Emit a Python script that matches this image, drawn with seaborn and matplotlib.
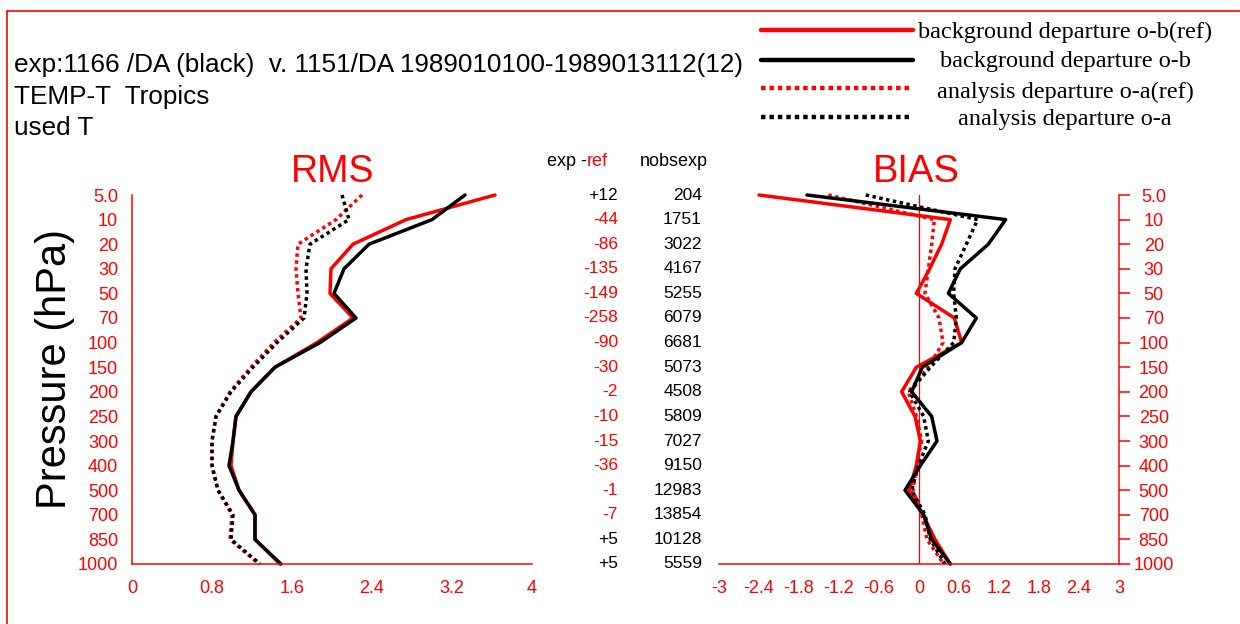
import numpy as np
import pandas as pd
import matplotlib
matplotlib.use("Agg")
import matplotlib.pyplot as plt
import seaborn as sns
from matplotlib.lines import Line2D
from matplotlib import transforms

# Pressure levels (hPa), top of the atmosphere first
levels = ["5.0", "10", "20", "30", "50", "70", "100", "150",
          "200", "250", "300", "400", "500", "700", "850", "1000"]

# RMS of departures (K)
rms_ob_ref = [3.63, 2.74, 2.21, 1.99, 1.98, 2.21, 1.85, 1.43,
              1.19, 1.04, 1.01, 0.99, 1.07, 1.23, 1.23, 1.48]
rms_ob_exp = [3.33, 3.00, 2.37, 2.12, 2.02, 2.24, 1.88, 1.43,
              1.19, 1.04, 1.01, 0.97, 1.07, 1.23, 1.23, 1.49]
rms_oa_ref = [2.30, 2.04, 1.66, 1.64, 1.66, 1.69, 1.42, 1.19,
              0.98, 0.84, 0.80, 0.80, 0.86, 1.00, 0.98, 1.27]
rms_oa_exp = [2.10, 2.17, 1.78, 1.74, 1.75, 1.72, 1.45, 1.21,
              0.99, 0.84, 0.80, 0.80, 0.86, 1.01, 0.99, 1.28]

# Mean departures (K)
bias_ob_ref = [-2.40, 0.47, 0.34, 0.16, -0.04, 0.53, 0.64, -0.04,
               -0.26, -0.06, 0.02, -0.04, -0.15, 0.06, 0.24, 0.47]
bias_ob_exp = [-1.68, 1.30, 1.04, 0.62, 0.44, 0.86, 0.64, 0.05,
               -0.11, 0.19, 0.27, 0.02, -0.21, 0.07, 0.19, 0.47]
bias_oa_ref = [-1.36, 0.23, 0.19, 0.14, 0.09, 0.30, 0.36, 0.14,
               -0.16, -0.04, 0.04, -0.04, -0.09, 0.04, 0.12, 0.37]
bias_oa_exp = [-0.80, 0.88, 0.71, 0.54, 0.52, 0.56, 0.52, 0.17,
               -0.14, 0.07, 0.14, -0.01, -0.11, 0.09, 0.17, 0.39]

# Observation counts
exp_minus_ref = [12, -44, -86, -135, -149, -258, -90, -30,
                 -2, -10, -15, -36, -1, -7, 5, 5]
nobs_exp = [204, 1751, 3022, 4167, 5255, 6079, 6681, 5073,
            4508, 5809, 7027, 9150, 12983, 13854, 10128, 5559]

rms_ticks = [0, 0.8, 1.6, 2.4, 3.2, 4]
bias_ticks = [-3, -2.4, -1.8, -1.2, -0.6, 0, 0.6, 1.2, 1.8, 2.4, 3]

legend_labels = {
    ("ref", "o-b"): "background departure o-b(ref)",
    ("exp", "o-b"): "background departure o-b",
    ("ref", "o-a"): "analysis departure o-a(ref)",
    ("exp", "o-a"): "analysis departure o-a",
}

RED = "#ff0000"
SANS = ["Liberation Sans", "DejaVu Sans"]
SERIF = ["Liberation Serif", "DejaVu Serif"]

sns.set_style("white")
plt.rcParams["font.family"] = SANS

pos = np.arange(len(levels))


def long_frame(series):
    rows = []
    for (src, kind), vals in series.items():
        for p, v in zip(pos, vals):
            rows.append({"pos": p, "value": v, "source": src, "kind": kind})
    return pd.DataFrame(rows)


rms_df = long_frame({("ref", "o-b"): rms_ob_ref, ("ref", "o-a"): rms_oa_ref,
                     ("exp", "o-b"): rms_ob_exp, ("exp", "o-a"): rms_oa_exp})
bias_df = long_frame({("ref", "o-b"): bias_ob_ref, ("ref", "o-a"): bias_oa_ref,
                      ("exp", "o-b"): bias_ob_exp, ("exp", "o-a"): bias_oa_exp})

W, H = 1240, 624
fig = plt.figure(figsize=(W / 100, H / 100), dpi=100)
fig.patch.set_facecolor("white")


def fx(px):
    return px / W


def fy(py):
    return 1 - py / H


ax_rms = fig.add_axes([fx(132), fy(564), 400 / W, 369 / H])
ax_bias = fig.add_axes([fx(719), fy(564), 400 / W, 369 / H])

line_kw = dict(x="value", y="pos", hue="source", style="kind",
               hue_order=["ref", "exp"], style_order=["o-b", "o-a"],
               palette={"ref": RED, "exp": "black"},
               dashes={"o-b": "", "o-a": (1, 1)},
               sort=False, orient="y", estimator=None,
               linewidth=2.5, legend=False)

sns.lineplot(data=rms_df, ax=ax_rms, **line_kw)
sns.lineplot(data=bias_df, ax=ax_bias, **line_kw)

for ax in (ax_rms, ax_bias):
    ax.set_facecolor("none")
    ax.set_ylim(len(levels) - 1, 0)
    ax.set_yticks(pos)
    ax.set_yticklabels(levels)
    ax.set_xlabel("")
    ax.set_ylabel("")
    ax.grid(False)
    for ln in ax.lines:
        ln.set_clip_on(False)
    for s in ax.spines.values():
        s.set_color(RED)
        s.set_linewidth(1.1)
    ax.spines["top"].set_visible(False)
    ax.tick_params(axis="both", colors=RED, labelcolor=RED, labelsize=13,
                   length=8, width=1.1, direction="out")
    ax.tick_params(axis="x", pad=3.5)

# RMS panel: axis on the left
ax_rms.set_xlim(0, 4)
ax_rms.set_xticks(rms_ticks)
ax_rms.set_xticklabels([f"{t:g}" for t in rms_ticks])
ax_rms.spines["right"].set_visible(False)
ax_rms.tick_params(axis="y", pad=2)

# BIAS panel: axis on the right, zero reference line
ax_bias.set_xlim(-3, 3)
ax_bias.set_xticks(bias_ticks)
ax_bias.set_xticklabels([f"{t:g}" for t in bias_ticks])
ax_bias.spines["left"].set_visible(False)
ax_bias.yaxis.tick_right()
ax_bias.tick_params(axis="y", pad=17)
for lbl in ax_bias.get_yticklabels():
    lbl.set_horizontalalignment("center")
ax_bias.axvline(0, color=RED, lw=0.9, zorder=0)

# Panel titles and pressure axis title
fig.text(fx(333), fy(172), "RMS", color=RED, fontsize=27, ha="center", va="center")
fig.text(fx(916), fy(172), "BIAS", color=RED, fontsize=27.5, ha="center", va="center")
fig.text(fx(55), fy(369), "Pressure (hPa)", color="black", fontsize=30,
         rotation=90, ha="center", va="center")

# Observation count columns between the panels
tr = transforms.blended_transform_factory(fig.transFigure, ax_rms.transData)
hdr_y = fy(161)
fig.text(fx(587), hdr_y, "exp -", color="black", fontsize=13, ha="right", va="center")
fig.text(fx(587), hdr_y, "ref", color=RED, fontsize=13, ha="left", va="center")
fig.text(fx(640), hdr_y, "nobsexp", color="black", fontsize=13, ha="left", va="center")
for p, d, n in zip(pos, exp_minus_ref, nobs_exp):
    fig.text(fx(618), p, f"{d:+d}", transform=tr, color="black" if d > 0 else RED,
             fontsize=12.5, ha="right", va="center")
    fig.text(fx(702), p, f"{n}", transform=tr, color="black",
             fontsize=12.5, ha="right", va="center")

# Header text
hdr_lines = ["exp:1166 /DA (black)  v. 1151/DA 1989010100-1989013112(12)",
             "TEMP-T  Tropics",
             "used T"]
for txt, base in zip(hdr_lines, [72, 104, 135]):
    fig.text(fx(14), fy(base), txt, color="black", fontsize=18.8,
             ha="left", va="baseline")

# Legend
leg_order = [("ref", "o-b"), ("exp", "o-b"), ("ref", "o-a"), ("exp", "o-a")]
leg_line_y = [29.5, 59.5, 88, 117]
leg_text_y = [32, 62, 92, 120]
for key, ly, ty in zip(leg_order, leg_line_y, leg_text_y):
    src, kind = key
    color = RED if src == "ref" else "black"
    ls = "-" if kind == "o-b" else (0, (1, 0.9))
    fig.add_artist(Line2D([fx(761), fx(913)], [fy(ly), fy(ly)], color=color,
                          lw=3.2, linestyle=ls, transform=fig.transFigure))
    fig.text(fx(1065), fy(ty), legend_labels[key], family=SERIF, fontsize=17.5,
             color="black", ha="center", va="center")

# Frame lines
fig.add_artist(Line2D([fx(7), 1], [fy(11), fy(11)], color=RED, lw=1.2,
                      transform=fig.transFigure))
fig.add_artist(Line2D([fx(7), fx(7)], [fy(11), 0], color=RED, lw=1.2,
                      transform=fig.transFigure))

fig.savefig("out.png", dpi=100, facecolor="white")
